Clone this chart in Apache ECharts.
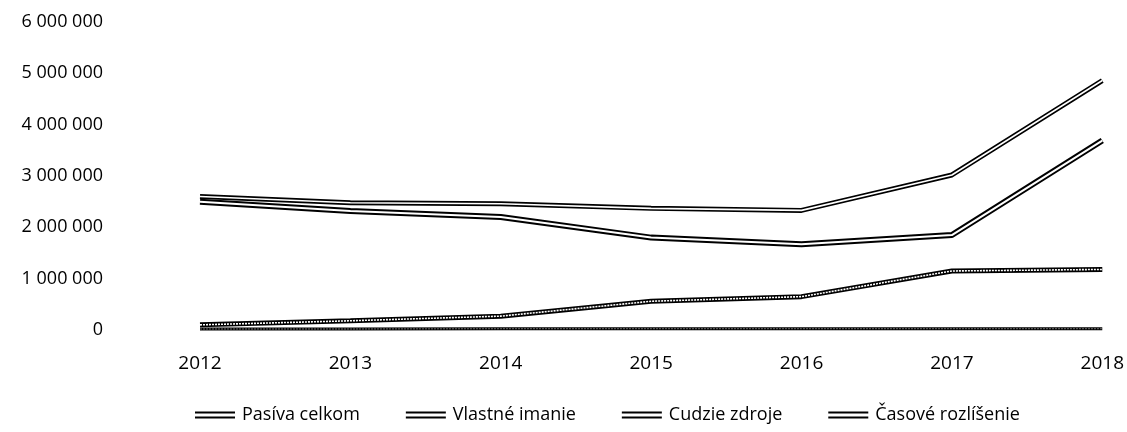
<!DOCTYPE html>
<html>
<head>
<meta charset="utf-8">
<script src="https://cdn.jsdelivr.net/npm/echarts@6/dist/echarts.min.js"></script>
<style>
  html, body { margin: 0; padding: 0; background: #fff; }
  #chart { width: 1127px; height: 432px; }
</style>
</head>
<body>
<div id="chart"></div>
<script>
var years = ['2012', '2013', '2014', '2015', '2016', '2017', '2018'];
var pasivaCelkom = [2600000, 2480000, 2460000, 2370000, 2330000, 3020000, 4860000];
var vlastneImanie = [2500000, 2320000, 2200000, 1800000, 1670000, 1850000, 3690000];
var cudzieZdroje = [100000, 180000, 270000, 560000, 650000, 1150000, 1180000];
var casoveRozlisenie = [20000, 20000, 25000, 25000, 25000, 25000, 25000];
var yTicks = [0, 1000000, 2000000, 3000000, 4000000, 5000000, 6000000];

var names = ['Pasíva celkom', 'Vlastné imanie', 'Cudzie zdroje', 'Časové rozlíšenie'];
var seriesData = [pasivaCelkom, vlastneImanie, cudzieZdroje, casoveRozlisenie];
var outerWidth = [5, 6, 5, 3];
var innerWidth = [1.6, 2, 1.6, 0.8];

var doubleIcon = 'path://M0,0H40V2H0Z M0,5H40V7H0Z';

var series = [];
// black outer strokes
seriesData.forEach(function (d, i) {
    series.push({
        name: names[i],
        type: 'line',
        data: d,
        symbol: 'none',
        silent: true,
        z: 2,
        lineStyle: { color: '#000', width: outerWidth[i] },
        itemStyle: { color: '#000' }
    });
});
// white inner strokes make the double line
seriesData.forEach(function (d, i) {
    series.push({
        name: names[i] + '_in',
        type: 'line',
        data: d,
        symbol: 'none',
        silent: true,
        z: 3,
        lineStyle: {
            color: i === 3 ? '#888' : '#fff',
            width: innerWidth[i],
            type: (i >= 2) ? [2, 1] : 'solid'
        }
    });
});

var option = {
    animation: false,
    backgroundColor: '#fff',
    textStyle: { fontFamily: 'Open Sans' },
    grid: {
        left: 200,
        right: 12,
        top: 22,
        bottom: 102
    },
    legend: {
        data: names.map(function (n) { return { name: n, icon: doubleIcon }; }),
        bottom: 3,
        left: 190,
        itemWidth: 44,
        itemHeight: 7,
        itemGap: 46,
        textStyle: { fontSize: 18, color: '#000', fontFamily: 'Open Sans' }
    },
    xAxis: {
        type: 'category',
        data: years,
        boundaryGap: false,
        axisLine: { show: false },
        axisTick: { show: false },
        axisLabel: { color: '#000', fontSize: 19, margin: 24 }
    },
    yAxis: {
        type: 'value',
        min: yTicks[0],
        max: yTicks[yTicks.length - 1],
        interval: 1000000,
        splitLine: { show: false },
        axisLine: { show: false },
        axisTick: { show: false },
        axisLabel: {
            color: '#000',
            fontSize: 18,
            margin: 97,
            formatter: function (v) {
                return String(v).replace(/\B(?=(\d{3})+(?!\d))/g, ' ');
            }
        }
    },
    series: series
};

var myChart = echarts.init(document.getElementById('chart'));
myChart.setOption(option);
</script>
</body>
</html>
